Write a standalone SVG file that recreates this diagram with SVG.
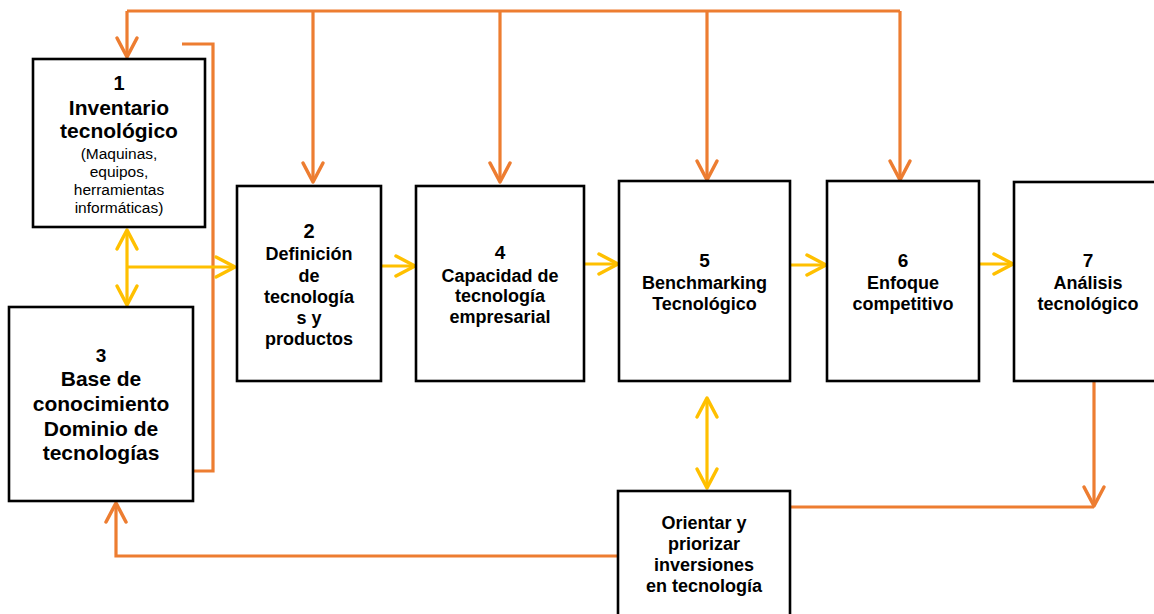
<svg xmlns="http://www.w3.org/2000/svg" width="1154" height="614" viewBox="0 0 1154 614">
<style>
.box{fill:#fff;stroke:#000;stroke-width:2.6}
.t{font-family:"Liberation Sans",Arial,sans-serif;font-weight:bold;fill:#000;text-anchor:middle}
.r{font-family:"Liberation Sans",Arial,sans-serif;font-weight:normal;fill:#000;text-anchor:middle;font-size:15.5px}
.o{fill:none;stroke:#ED7D31;stroke-width:3.2}
.y{fill:none;stroke:#FFC000;stroke-width:3.2}
</style>
<defs>
<marker id="ao" markerUnits="userSpaceOnUse" markerWidth="26" markerHeight="26" viewBox="-22 -13 26 26" refX="0" refY="0" orient="auto-start-reverse">
<path d="M-19,-10 L0,0 L-19,10" fill="none" stroke="#ED7D31" stroke-width="3.5" stroke-linecap="round" stroke-linejoin="round"/>
</marker>
<marker id="ay" markerUnits="userSpaceOnUse" markerWidth="26" markerHeight="26" viewBox="-22 -13 26 26" refX="0" refY="0" orient="auto-start-reverse">
<path d="M-19,-10 L0,0 L-19,10" fill="none" stroke="#FFC000" stroke-width="3.5" stroke-linecap="round" stroke-linejoin="round"/>
</marker>
</defs>
<rect width="1154" height="614" fill="#fff"/>

<g id="connectors">
<path class="o" d="M127,11 H900"/>
<path class="o" d="M127,11 V57" marker-end="url(#ao)"/>
<path class="o" d="M313,11 V182" marker-end="url(#ao)"/>
<path class="o" d="M500,11 V182" marker-end="url(#ao)"/>
<path class="o" d="M707,11 V180" marker-end="url(#ao)"/>
<path class="o" d="M900,11 V180" marker-end="url(#ao)"/>
<path class="o" d="M182,44 H213 V471 H182"/>
<path class="o" d="M1094,382 V506" marker-end="url(#ao)"/>
<path class="o" d="M791,507 H1094"/>
<path class="o" d="M618,556 H116 V503" marker-end="url(#ao)"/>
<path class="y" d="M127,230 V305" marker-start="url(#ay)" marker-end="url(#ay)"/>
<path class="y" d="M127,267 H235" marker-end="url(#ay)"/>
<path class="y" d="M382,266 H415" marker-end="url(#ay)"/>
<path class="y" d="M585,264 H618" marker-end="url(#ay)"/>
<path class="y" d="M791,265 H826" marker-end="url(#ay)"/>
<path class="y" d="M980,264 H1013" marker-end="url(#ay)"/>
<path class="y" d="M707,398 V488" marker-start="url(#ay)" marker-end="url(#ay)"/>
</g>

<g id="n1">
<rect class="box" x="33" y="59" width="172" height="168"/>
<text class="t" x="119" y="90" font-size="20">1</text>
<text class="t" x="119" y="115" font-size="21">Inventario</text>
<text class="t" x="119" y="138" font-size="21">tecnológico</text>
<text class="r" x="119" y="159">(Maquinas,</text>
<text class="r" x="119" y="177">equipos,</text>
<text class="r" x="119" y="195">herramientas</text>
<text class="r" x="119" y="213">informáticas)</text>
</g>

<g id="n2">
<rect class="box" x="237" y="186" width="144" height="195"/>
<text class="t" x="309" y="238" font-size="20">2</text>
<text class="t" x="309" y="260" font-size="18">Definición</text>
<text class="t" x="309" y="282" font-size="18">de</text>
<text class="t" x="309" y="303" font-size="18">tecnología</text>
<text class="t" x="309" y="324" font-size="18">s y</text>
<text class="t" x="309" y="345" font-size="18">productos</text>
</g>

<g id="n3">
<rect class="box" x="9" y="307" width="184" height="194"/>
<text class="t" x="101" y="362" font-size="19">3</text>
<text class="t" x="101" y="386" font-size="21">Base de</text>
<text class="t" x="101" y="411" font-size="21">conocimiento</text>
<text class="t" x="101" y="436" font-size="21">Dominio de</text>
<text class="t" x="101" y="460" font-size="21">tecnologías</text>
</g>

<g id="n4">
<rect class="box" x="416" y="186" width="168" height="195"/>
<text class="t" x="500" y="259" font-size="19">4</text>
<text class="t" x="500" y="282" font-size="18">Capacidad de</text>
<text class="t" x="500" y="302" font-size="18">tecnología</text>
<text class="t" x="500" y="323" font-size="18">empresarial</text>
</g>

<g id="n5">
<rect class="box" x="619" y="181" width="171" height="200"/>
<text class="t" x="704.5" y="267" font-size="19">5</text>
<text class="t" x="704.5" y="289" font-size="18">Benchmarking</text>
<text class="t" x="704.5" y="310" font-size="18">Tecnológico</text>
</g>

<g id="n6">
<rect class="box" x="827" y="181" width="152" height="200"/>
<text class="t" x="903" y="267" font-size="19">6</text>
<text class="t" x="903" y="289" font-size="18">Enfoque</text>
<text class="t" x="903" y="310" font-size="18">competitivo</text>
</g>

<g id="n7">
<rect class="box" x="1014" y="182" width="150" height="199"/>
<text class="t" x="1088" y="267" font-size="19">7</text>
<text class="t" x="1088" y="289" font-size="18">Análisis</text>
<text class="t" x="1088" y="310" font-size="18">tecnológico</text>
</g>

<g id="n8">
<rect class="box" x="618" y="491" width="172" height="140"/>
<text class="t" x="704" y="529" font-size="18">Orientar y</text>
<text class="t" x="704" y="550" font-size="18">priorizar</text>
<text class="t" x="704" y="571" font-size="18">inversiones</text>
<text class="t" x="704" y="592" font-size="18">en tecnología</text>
</g>
</svg>
